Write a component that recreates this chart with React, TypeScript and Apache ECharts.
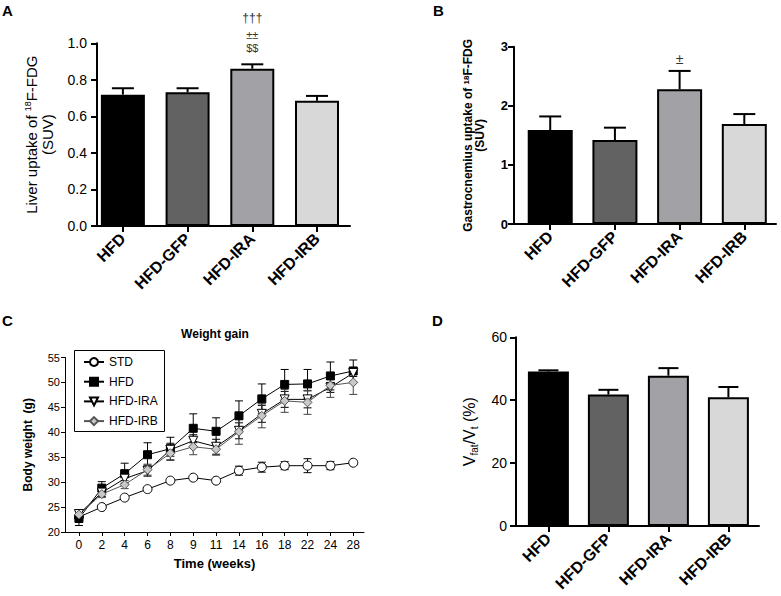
import React, { useEffect, useRef } from 'react';
import * as echarts from 'echarts';

// ---------- data ----------
const groups = ['HFD', 'HFD-GFP', 'HFD-IRA', 'HFD-IRB'];
const liverMean = [0.719, 0.732, 0.861, 0.686];
const liverSem = [0.035, 0.022, 0.024, 0.026];
const liverSig = [[], [], ['†††', '±±', '$$'], []];
const gastroMean = [1.59, 1.42, 2.28, 1.69];
const gastroSem = [0.23, 0.21, 0.31, 0.17];
const gastroSig = ['', '', '±', ''];
const fatMean = [49.1, 41.8, 47.8, 40.9];
const fatSem = [0.4, 1.5, 2.4, 3.3];

const weeks = ['0', '2', '4', '6', '8', '9', '11', '14', '16', '18', '22', '24', '28'];
const stdWeight = [23.0, 25.0, 26.9, 28.6, 30.3, 30.9, 30.3, 32.3, 33.0, 33.3, 33.3, 33.3, 33.9];
const stdErr = [0.4, 0.3, 0.3, 0.3, 0.3, 0.3, 0.3, 0.9, 1.0, 0.8, 1.4, 0.8, 0.3];
const hfdWeight = [22.7, 28.8, 31.7, 35.5, 36.7, 40.8, 40.2, 43.3, 46.7, 49.6, 49.7, 51.3, 52.3];
const hfdErr = [1.4, 1.3, 2.1, 2.4, 2.3, 2.9, 2.7, 3.0, 3.0, 3.0, 2.9, 2.8, 2.2];
const iraWeight = [23.6, 27.9, 30.7, 32.3, 36.5, 38.3, 37.1, 40.3, 43.7, 46.6, 46.6, 49.0, 51.9];
const iraErr = [0.7, 0.8, 0.9, 1.1, 1.3, 1.2, 1.5, 1.6, 1.7, 1.6, 1.7, 1.0, 0.7];
const irbWeight = [23.5, 27.6, 29.5, 32.5, 35.8, 37.1, 36.6, 40.1, 43.3, 46.3, 46.0, 49.4, 50.0];
const irbErr = [0.6, 0.7, 0.8, 1.1, 1.3, 1.6, 1.2, 2.5, 2.4, 2.3, 2.4, 2.4, 2.4];

// ---------- styles ----------
const FONT = '"Liberation Sans", Arial, Helvetica, sans-serif';
const barColors = ['#000000', '#626262', '#a2a2a6', '#d8d8d8'];

function errRender(capHalf: number, lw: number, color: string, both: boolean) {
  return (params: any, api: any) => {
    const x = api.value(0);
    const v = api.value(1);
    const e = api.value(2);
    const top = api.coord([x, v + e]);
    const bot = api.coord([x, both ? v - e : v]);
    const st = { stroke: color, lineWidth: lw, fill: 'none' };
    const children: any[] = [
      { type: 'line', shape: { x1: top[0], y1: top[1], x2: bot[0], y2: bot[1] }, style: st },
      { type: 'line', shape: { x1: top[0] - capHalf, y1: top[1], x2: top[0] + capHalf, y2: top[1] }, style: st },
    ];
    if (both) {
      children.push({ type: 'line', shape: { x1: bot[0] - capHalf, y1: bot[1], x2: bot[0] + capHalf, y2: bot[1] }, style: st });
    }
    return { type: 'group', children };
  };
}

function barXAxis(gridIndex: number, min: number, max: number) {
  const idx = groups.map((_, i) => i);
  return {
    type: 'value', gridIndex, min, max,
    axisLine: { show: true, onZero: false, lineStyle: { color: '#000', width: 2 } },
    axisTick: { show: true, customValues: idx, length: 6, lineStyle: { color: '#000', width: 2 } },
    axisLabel: {
      customValues: idx, formatter: (v: number) => groups[Math.round(v)] ?? '',
      rotate: 45, margin: 10, fontSize: 16, fontWeight: 'bold', color: '#000', fontFamily: FONT,
    },
    splitLine: { show: false },
  };
}

function barYAxis(gridIndex: number, min: number, max: number, interval: number, extra: any) {
  return {
    type: 'value', gridIndex, min, max, interval,
    axisLine: { show: true, onZero: false, lineStyle: { color: '#000', width: 2 } },
    axisTick: { show: true, length: 6, lineStyle: { color: '#000', width: 2 } },
    splitLine: { show: false },
    nameLocation: 'middle', nameRotate: 90,
    ...extra,
  };
}

function barSeries(gridIndex: number, means: number[], width: number, labels: any[]) {
  return {
    type: 'bar', xAxisIndex: gridIndex, yAxisIndex: gridIndex, barWidth: width,
    silent: true,
    itemStyle: { borderColor: '#000', borderWidth: 2 },
    data: means.map((m, i) => ({ value: [i, m], itemStyle: { color: barColors[i] }, label: labels[i] })),
  };
}

function errSeries(gridIndex: number, means: number[], errs: number[], capHalf: number) {
  return {
    type: 'custom', xAxisIndex: gridIndex, yAxisIndex: gridIndex, silent: true, clip: false,
    encode: { x: 0, y: 1 },
    renderItem: errRender(capHalf, 2, '#000', false),
    data: means.map((m, i) => [i, m, errs[i]]),
    z: 3,
  };
}

const liverLabels = liverSig.map((s) => s.length ? {
  show: true, position: 'top', distance: 14,
  formatter: `{t|${s[0]}}\n{p|${s[1]}}\n{d|${s[2]}}`,
  rich: {
    t: { fontSize: 12, fontFamily: FONT, color: '#333', lineHeight: 22 },
    p: { fontSize: 11, fontFamily: FONT, color: '#333', lineHeight: 13 },
    d: { fontSize: 11, fontFamily: FONT, color: '#333', lineHeight: 13 },
  },
} : { show: false });

const gastroLabels = gastroSig.map((s) => s ? {
  show: true, position: 'top', distance: 23, formatter: s,
  fontSize: 14, fontFamily: FONT, color: '#333',
} : { show: false });

const weekIdx = weeks.map((_, i) => i);
const lineGroups = [
  { name: 'STD', w: stdWeight, e: stdErr, symbol: 'circle', size: 9, rot: 0, fill: '#ffffff', border: '#000', line: '#000' },
  { name: 'HFD', w: hfdWeight, e: hfdErr, symbol: 'rect', size: 8, rot: 0, fill: '#000000', border: '#000', line: '#000' },
  { name: 'HFD-IRA', w: iraWeight, e: iraErr, symbol: 'triangle', size: 9, rot: 180, fill: '#ffffff', border: '#000', line: '#000' },
  { name: 'HFD-IRB', w: irbWeight, e: irbErr, symbol: 'diamond', size: 9, rot: 0, fill: '#c8c8c8', border: '#555', line: '#555' },
];

const supRich = (size: number, sup: number, bold: boolean, lh: number) => ({
  a: { fontSize: size, fontFamily: FONT, color: '#000', fontWeight: bold ? 'bold' : 'normal', lineHeight: lh },
  s: { fontSize: sup, fontFamily: FONT, color: '#000', fontWeight: bold ? 'bold' : 'normal', lineHeight: sup + 1, verticalAlign: 'top' },
});

const option: any = {
  animation: false,
  backgroundColor: '#ffffff',
  title: [
    { text: 'A', left: 2, top: 3, padding: 0, textStyle: { fontSize: 15, fontWeight: 'bold', fontFamily: FONT, color: '#000' } },
    { text: 'B', left: 433, top: 3, padding: 0, textStyle: { fontSize: 15, fontWeight: 'bold', fontFamily: FONT, color: '#000' } },
    { text: 'C', left: 2, top: 313, padding: 0, textStyle: { fontSize: 15, fontWeight: 'bold', fontFamily: FONT, color: '#000' } },
    { text: 'D', left: 432, top: 313, padding: 0, textStyle: { fontSize: 15, fontWeight: 'bold', fontFamily: FONT, color: '#000' } },
    { text: 'Weight gain', left: 215, top: 328, textAlign: 'center', padding: 0, textStyle: { fontSize: 12, fontWeight: 'bold', fontFamily: FONT, color: '#000' } },
  ],
  graphic: [
    { type: 'rect', shape: { x: 74.5, y: 350.5, width: 90, height: 81 }, style: { fill: 'none', stroke: '#000', lineWidth: 1 }, z: 10, silent: true },
  ],
  grid: [
    { left: 97, top: 43.3, width: 253, height: 182.7 },
    { left: 514, top: 46.7, width: 262, height: 177.3 },
    { left: 65, top: 357.5, width: 299, height: 174.5 },
    { left: 516, top: 337.3, width: 243, height: 188.7 },
  ],
  legend: {
    orient: 'vertical', left: 74, top: 350,
    padding: [6, 0, 0, 9], itemGap: 7.7, itemWidth: 20, itemHeight: 10,
    backgroundColor: '#ffffff',
    textStyle: { fontSize: 12, fontFamily: FONT, color: '#000' },
    data: lineGroups.map((g) => g.name),
  },
  xAxis: [
    barXAxis(0, -0.4, 3.51),
    barXAxis(1, -0.56, 3.49),
    {
      type: 'value', gridIndex: 2, min: -0.61, max: 12.47,
      axisLine: { show: true, onZero: false, lineStyle: { color: '#000', width: 1 } },
      axisTick: { show: true, customValues: weekIdx, length: 4, lineStyle: { color: '#000', width: 1 } },
      axisLabel: { customValues: weekIdx, formatter: (v: number) => weeks[Math.round(v)] ?? '', margin: 7, fontSize: 12, color: '#000', fontFamily: FONT },
      splitLine: { show: false },
      name: 'Time (weeks)', nameLocation: 'middle', nameGap: 25,
      nameTextStyle: { fontSize: 13, fontWeight: 'bold', fontFamily: FONT, color: '#000' },
    },
    barXAxis(3, -0.54, 3.51),
  ],
  yAxis: [
    barYAxis(0, 0, 1, 0.2, {
      axisLabel: { formatter: (v: number) => v.toFixed(1), margin: 10, fontSize: 14, color: '#000', fontFamily: FONT },
      name: '{a|Liver uptake of }{s|18}{a|F-FDG}\n{a|(SUV)}', nameGap: 42,
      nameTextStyle: { fontSize: 15, fontFamily: FONT, color: '#000', lineHeight: 16, rich: supRich(15, 9, false, 16) },
    }),
    barYAxis(1, 0, 3, 1, {
      axisLabel: { margin: 6, fontSize: 13, fontWeight: 'bold', color: '#000', fontFamily: FONT },
      name: '{a|Gastrocnemius uptake of }{s|18}{a|F-FDG}\n{a|(SUV)}', nameGap: 28,
      nameTextStyle: { fontSize: 12, fontWeight: 'bold', fontFamily: FONT, color: '#000', lineHeight: 12, rich: supRich(12, 8, true, 12) },
    }),
    {
      type: 'value', gridIndex: 2, min: 20, max: 55, interval: 5,
      axisLine: { show: true, onZero: false, lineStyle: { color: '#000', width: 1 } },
      axisTick: { show: true, length: 4, lineStyle: { color: '#000', width: 1 } },
      axisLabel: { margin: 5, fontSize: 11, color: '#000', fontFamily: FONT },
      splitLine: { show: false },
      name: 'Body weight  (g)', nameLocation: 'middle', nameRotate: 90, nameGap: 31,
      nameTextStyle: { fontSize: 12, fontWeight: 'bold', fontFamily: FONT, color: '#000' },
    },
    barYAxis(3, 0, 60, 20, {
      axisLabel: { margin: 9, fontSize: 14, color: '#000', fontFamily: FONT },
      name: '{a|V}{b|fat}{a|/V}{b|t}{a| (%)}', nameGap: 37,
      nameTextStyle: {
        fontSize: 16, fontFamily: FONT, color: '#000',
        rich: {
          a: { fontSize: 16, fontFamily: FONT, color: '#000', lineHeight: 20 },
          b: { fontSize: 10, fontFamily: FONT, color: '#000', lineHeight: 10, verticalAlign: 'bottom' },
        },
      },
    }),
  ],
  series: [
    barSeries(0, liverMean, 44, liverLabels),
    errSeries(0, liverMean, liverSem, 11),
    barSeries(1, gastroMean, 45, gastroLabels),
    errSeries(1, gastroMean, gastroSem, 11),
    barSeries(3, fatMean, 41, groups.map(() => ({ show: false }))),
    errSeries(3, fatMean, fatSem, 10),
    ...lineGroups.map((g) => ({
      type: 'custom', xAxisIndex: 2, yAxisIndex: 2, silent: true, clip: false,
      encode: { x: 0, y: 1 },
      renderItem: errRender(4, 1, g.border === '#555' ? '#444' : '#000', true),
      data: g.w.map((v, i) => [i, v, g.e[i]]),
      z: 1,
    })),
    ...lineGroups.map((g) => ({
      type: 'line', name: g.name, xAxisIndex: 2, yAxisIndex: 2, silent: true,
      symbol: g.symbol, symbolSize: g.size, symbolRotate: g.rot,
      itemStyle: { color: g.fill, borderColor: g.border, borderWidth: 1 },
      lineStyle: { color: g.line, width: 1 },
      data: g.w.map((v, i) => [i, v]),
      z: 3,
    })),
  ],
};

export default function App() {
  const ref = useRef<HTMLDivElement>(null);
  useEffect(() => {
    if (!ref.current) return;
    const chart = echarts.init(ref.current, null, { renderer: 'svg' });
    chart.setOption(option);
    return () => chart.dispose();
  }, []);
  return (
    <div
      ref={ref}
      style={{ position: 'absolute', left: 0, top: 0, width: 781, height: 596, background: '#fff' }}
    />
  );
}
